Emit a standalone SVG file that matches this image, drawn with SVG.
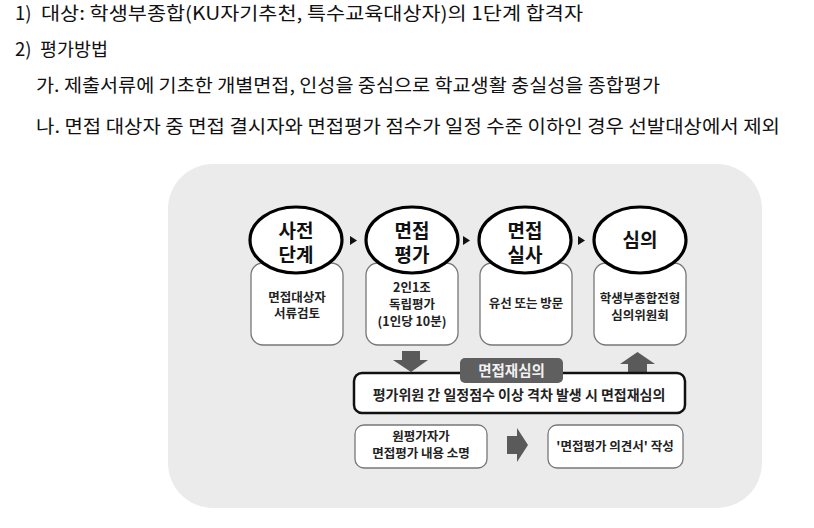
<svg xmlns="http://www.w3.org/2000/svg" width="814" height="528" viewBox="0 0 814 528">
<style>
.hd{font-family:"Noto Sans CJK KR","Noto Sans",sans-serif;font-size:18.5px;fill:#111}
.el{fill:#fff;stroke:#000;stroke-width:3.2}
.bx{fill:#fff;stroke:#777;stroke-width:1.3}
.et{font-family:"Noto Sans CJK KR",sans-serif;font-size:19px;font-weight:bold;fill:#111;text-anchor:middle}
.bt{font-family:"Noto Sans CJK KR",sans-serif;font-size:12.5px;font-weight:bold;fill:#222;text-anchor:middle}
.tri{fill:#111}
.blk{fill:#5a5a5a}
</style>
<rect width="814" height="528" fill="#fff"/>
<text class="hd" y="20"><tspan x="15">1)</tspan><tspan x="41" textLength="542" lengthAdjust="spacingAndGlyphs">대상: 학생부종합(KU자기추천, 특수교육대상자)의 1단계  합격자</tspan></text>
<text class="hd" y="56"><tspan x="15">2)</tspan><tspan x="40">평가방법</tspan></text>
<text class="hd" x="36" y="92" textLength="624" lengthAdjust="spacingAndGlyphs">가. 제출서류에 기초한 개별면접, 인성을 중심으로 학교생활 충실성을 종합평가</text>
<text class="hd" x="36" y="133" textLength="744" lengthAdjust="spacingAndGlyphs">나. 면접 대상자 중 면접 결시자와 면접평가 점수가 일정 수준 이하인 경우 선발대상에서 제외</text>

<rect x="168" y="164" width="594" height="344" rx="45" fill="#ebebeb"/>

<g id="connectors">
<polygon class="tri" points="350,236 357,240.5 350,245"/>
<polygon class="tri" points="463,236 470,240.5 463,245"/>
<polygon class="tri" points="578,236 585,240.5 578,245"/>
<polygon class="blk" points="402,351 420,351 420,360 428,360 411,372 393,360 402,360"/>
<polygon class="blk" points="637.5,352 655,364 647,364 647,373 628,373 628,364 620,364"/>
<polygon class="blk" points="507,436 517,436 517,428 528,445 517,462 517,454 507,454"/>
</g>

<g id="node-pre">
<rect class="bx" x="251" y="263" width="92" height="82" rx="12"/>
<ellipse class="el" cx="296" cy="240" rx="46" ry="33"/>
<text class="et" x="296" y="238">사전</text>
<text class="et" x="296" y="262">단계</text>
<text class="bt" x="297" y="302">면접대상자</text>
<text class="bt" x="297" y="318">서류검토</text>
</g>

<g id="node-eval">
<rect class="bx" x="366" y="263" width="92" height="82" rx="12"/>
<ellipse class="el" cx="412" cy="240" rx="46" ry="33"/>
<text class="et" x="412" y="238">면접</text>
<text class="et" x="412" y="262">평가</text>
<text class="bt" x="412" y="292">2인1조</text>
<text class="bt" x="412" y="309">독립평가</text>
<text class="bt" x="412" y="326">(1인당 10분)</text>
</g>

<g id="node-exec">
<rect class="bx" x="480" y="263" width="92" height="82" rx="12"/>
<ellipse class="el" cx="525" cy="240" rx="46" ry="33"/>
<text class="et" x="525" y="238">면접</text>
<text class="et" x="525" y="262">실사</text>
<text class="bt" x="526" y="308">유선 또는 방문</text>
</g>

<g id="node-review">
<rect class="bx" x="594" y="263" width="92" height="82" rx="12"/>
<ellipse class="el" cx="640" cy="240" rx="46" ry="33"/>
<text class="et" x="640" y="247">심의</text>
<text class="bt" x="640" y="303">학생부종합전형</text>
<text class="bt" x="640" y="320">심의위원회</text>
</g>

<g id="node-rereview">
<rect x="354" y="373" width="331" height="40" rx="8" fill="#fff" stroke="#111" stroke-width="2.5"/>
<text class="bt" x="519" y="400" style="font-size:14px">평가위원 간 일정점수 이상 격차 발생 시 면접재심의</text>
</g>

<g id="label-rereview">
<rect x="460" y="358" width="103" height="25" rx="5" fill="#5f5f5f"/>
<text class="bt" x="511.5" y="376" style="font-size:14.5px;fill:#f2f2f2">면접재심의</text>
</g>

<g id="node-explain">
<rect class="bx" x="355" y="425" width="132" height="43" rx="9"/>
<text class="bt" x="421" y="441">원평가자가</text>
<text class="bt" x="421" y="458">면접평가 내용 소명</text>
</g>

<g id="node-opinion">
<rect class="bx" x="548" y="425" width="135" height="43" rx="9"/>
<text class="bt" x="615" y="451">'면접평가 의견서' 작성</text>
</g>
</svg>
